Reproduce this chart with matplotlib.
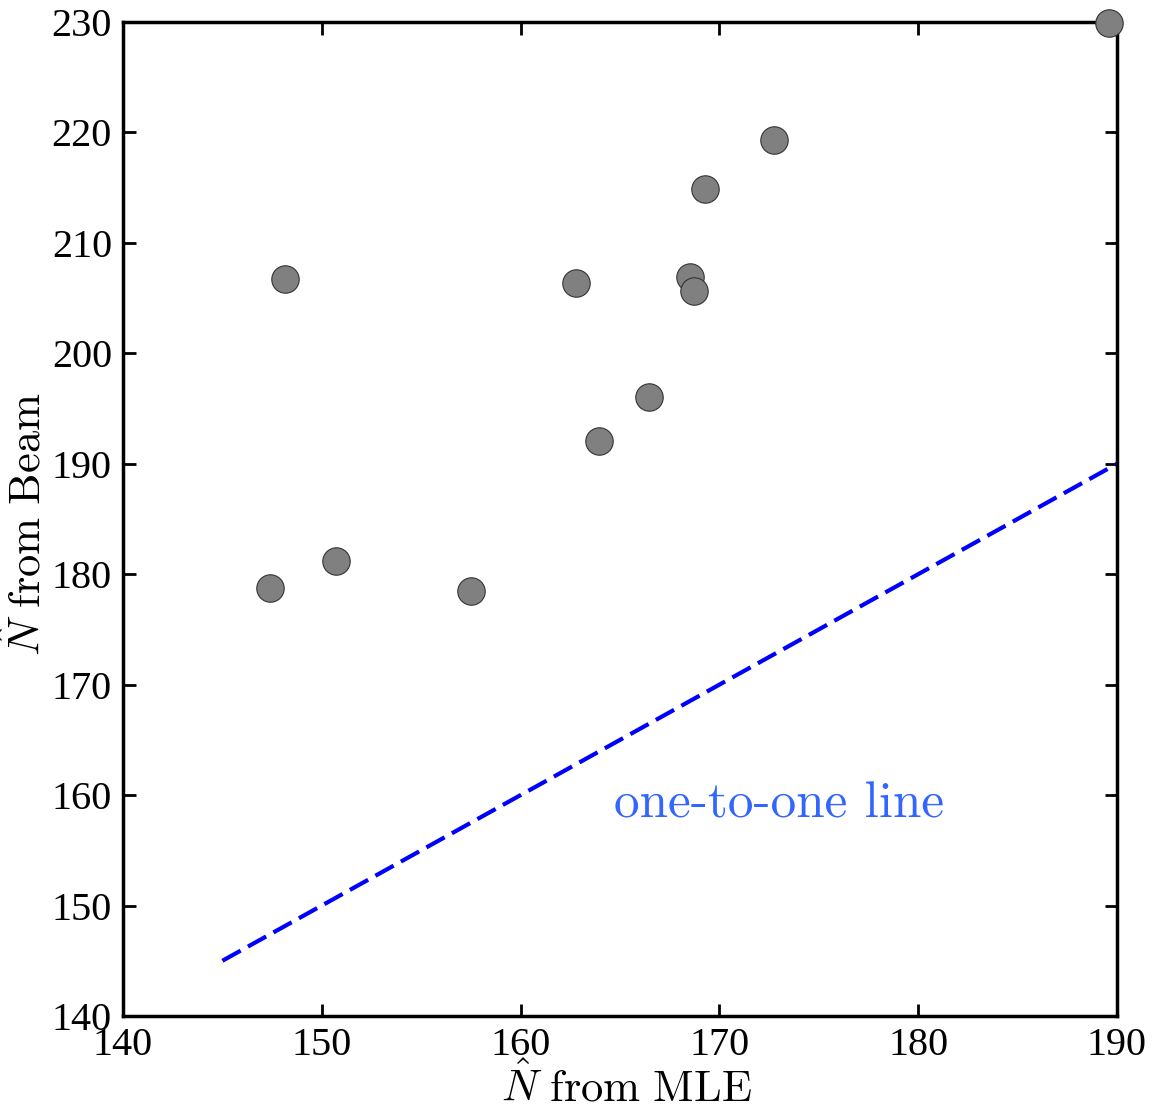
import matplotlib
matplotlib.use("Agg")
import matplotlib.pyplot as plt

# N-hat estimates, MLE vs Beam
mle = [189.6, 172.75, 169.3, 148.15, 162.8, 168.5, 168.7, 166.45, 163.95, 150.7, 147.4, 157.5]
beam = [229.9, 219.3, 214.9, 206.7, 206.4, 206.95, 205.6, 196.0, 192.1, 181.2, 178.75, 178.5]

line_x = [145, 190]
line_y = [145, 190]

xticks = [140, 150, 160, 170, 180, 190]
yticks = [140, 150, 160, 170, 180, 190, 200, 210, 220, 230]

plt.rcParams['mathtext.fontset'] = 'cm'

fig = plt.figure(figsize=(11.52, 11.10), dpi=100)
ax = fig.add_axes([0.1068, 0.0847, 0.8628, 0.8955])

ax.plot(line_x, line_y, '--', color='#0000ff', lw=3, dashes=(5, 2), zorder=2)
ax.scatter(mle, beam, s=390, c='#808080', edgecolors='#333333', linewidths=0.8, zorder=3, clip_on=False)

ax.text(164.7, 159.1, 'one-to-one line', color='#3366ff', fontsize=37,
        family='cmr10', va='center', ha='left')

ax.set_xlim(140, 190)
ax.set_ylim(140, 230)
ax.set_xticks(xticks)
ax.set_yticks(yticks)
ax.tick_params(direction='in', length=9, width=2, top=True, right=True, labelsize=29, pad=8)
for lab in ax.get_xticklabels() + ax.get_yticklabels():
    lab.set_family('Liberation Serif')
for sp in ax.spines.values():
    sp.set_linewidth(2.5)

ax.set_xlabel(r'$\hat{N}\ \mathrm{from}\ \mathrm{MLE}$', fontsize=32)
ax.set_ylabel(r'$\hat{N}\ \mathrm{from}\ \mathrm{Beam}$', fontsize=32)
ax.xaxis.set_label_coords(0.507, -0.047)
ax.yaxis.set_label_coords(-0.074, 0.495)

plt.savefig("out.png", dpi=100)
